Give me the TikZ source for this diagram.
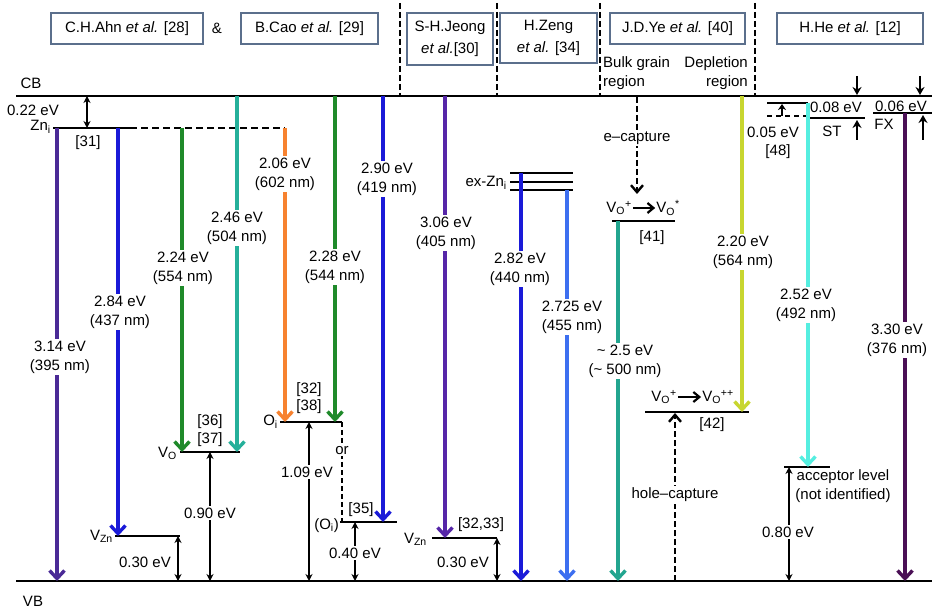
\documentclass[tikz,border=0pt]{standalone}
\usepackage{fontspec}
\setmainfont{Liberation Sans}
\usetikzlibrary{arrows.meta}
\definecolor{boxc}{HTML}{5B6F8C}
\definecolor{cpurA}{HTML}{4A2A96}
\definecolor{cpurB}{HTML}{5626A8}
\definecolor{cpurC}{HTML}{4A0F55}
\definecolor{cblue}{HTML}{1A1AD8}
\definecolor{clblue}{HTML}{3D6FF0}
\definecolor{cgreen}{HTML}{1F8A2A}
\definecolor{cteal}{HTML}{25B09A}
\definecolor{ctealB}{HTML}{22A58F}
\definecolor{corange}{HTML}{F7822F}
\definecolor{cyellow}{HTML}{C8D630}
\definecolor{ccyan}{HTML}{55EEE0}
\begin{document}
\begin{tikzpicture}[x=1pt,y=-1pt,
  every node/.style={font=\fontsize{15}{19}\selectfont, inner sep=1pt},
  lev/.style={line width=2.4pt},
  cl/.style={line width=3.4pt,-{Straight Barb[length=8pt,width=15pt]}},
  lab/.style={fill=white,align=center,inner sep=2pt},
  dbl/.style={line width=2pt,{Stealth[length=7pt,width=7pt]}-{Stealth[length=7pt,width=7pt]}},
  uparr/.style={line width=2pt,-{Stealth[length=8pt,width=9pt]}},
  hbox/.style={draw=boxc,line width=1.3pt,align=center,inner sep=0pt},
  vdash/.style={line width=2.3pt,dash pattern=on 6pt off 3pt},
  dar/.style={line width=2.4pt,dash pattern=on 6pt off 3pt,-{Straight Barb[length=7pt,width=12pt]}}]
\useasboundingbox (0,0) rectangle (932,609);

% ---------- header ----------
\node[hbox,minimum width=152pt,minimum height=31pt] (h1) at (127,28.5) {C.H.Ahn \textit{et al.} [28]};
\node (amp) at (217,28) {\&};
\node[hbox,minimum width=137pt,minimum height=31pt] (h2) at (309.5,28.5) {B.Cao \textit{et al.} [29]};
\node[hbox,minimum width=86pt,minimum height=52pt] (h3) at (450,39) {S-H.Jeong\\[3pt]\textit{et al.}[30]};
\node[hbox,minimum width=97pt,minimum height=50pt] (h4) at (548.5,38) {H.Zeng\\[3pt]\textit{et al.} [34]};
\node[hbox,minimum width=135pt,minimum height=31pt] (h5) at (677.5,28.5) {J.D.Ye \textit{et al.} [40]};
\node[hbox,minimum width=146pt,minimum height=31pt] (h6) at (850,28.5) {H.He \textit{et al.} [12]};
\node[anchor=west,align=left] (bulk) at (602,73) {Bulk grain\\region};
\node[anchor=east,align=right] (depl) at (749,73) {Depletion\\region};

\coordinate (s1t) at (400,3); \coordinate (s1b) at (400,96);
\coordinate (s2t) at (497,3); \coordinate (s2b) at (497,96);
\coordinate (s3t) at (600,3); \coordinate (s3b) at (600,96);
\coordinate (s4t) at (755,3); \coordinate (s4b) at (755,96);
\draw[vdash] (s1t) -- (s1b); \draw[vdash] (s2t) -- (s2b);
\draw[vdash] (s3t) -- (s3b); \draw[vdash] (s4t) -- (s4b);

% ---------- bands ----------
\coordinate (CBl) at (16,96); \coordinate (CBr) at (932,96);
\coordinate (VBl) at (16,581); \coordinate (VBr) at (932,581);
\draw[lev] (CBl) -- (CBr);
\draw[lev] (VBl) -- (VBr);
\node (cb) at (31,83) {CB};
\node (vb) at (33,601) {VB};

% ---------- levels ----------
\coordinate (zniL) at (53,128); \coordinate (zniM) at (130,128); \coordinate (zniR) at (285,128);
\draw[lev] (zniL) -- (zniM);
\draw[lev,dash pattern=on 7pt off 4pt] (zniM) -- (zniR);
\coordinate (vzn1L) at (115,536); \coordinate (vzn1R) at (180,536); \draw[lev] (vzn1L) -- (vzn1R);
\coordinate (voL) at (180,452); \coordinate (voR) at (240,452); \draw[lev] (voL) -- (voR);
\coordinate (oiL) at (280,422); \coordinate (oiR) at (342,422); \draw[lev] (oiL) -- (oiR);
\coordinate (oi2L) at (340,522); \coordinate (oi2R) at (397,522); \draw[lev] (oi2L) -- (oi2R);
\coordinate (oiD) at (342,522);
\draw[line width=1.8pt,dash pattern=on 5pt off 3pt] (oiR) -- (oiD);
\coordinate (vzn2L) at (432,538); \coordinate (vzn2R) at (497,538); \draw[lev] (vzn2L) -- (vzn2R);
\coordinate (ex1L) at (510,173); \coordinate (ex1R) at (573,173); \draw[lev] (ex1L) -- (ex1R);
\coordinate (ex2L) at (510,182); \coordinate (ex2R) at (573,182); \draw[lev] (ex2L) -- (ex2R);
\coordinate (ex3L) at (510,190); \coordinate (ex3R) at (573,190); \draw[lev] (ex3L) -- (ex3R);
\coordinate (vsL) at (612,221); \coordinate (vsR) at (675,221); \draw[lev] (vsL) -- (vsR);
\coordinate (vppL) at (645,412); \coordinate (vppR) at (749,412); \draw[lev] (vppL) -- (vppR);
\coordinate (heTL) at (767,103); \coordinate (heTR) at (808,103); \draw[lev] (heTL) -- (heTR);
\coordinate (heDL) at (767,116); \coordinate (heDR) at (808,116);
\draw[line width=2pt,dash pattern=on 5pt off 4pt] (heDL) -- (heDR);
\coordinate (stL) at (808,118); \coordinate (stR) at (865,118); \draw[lev] (stL) -- (stR);
\coordinate (fxL) at (873,113); \coordinate (fxR) at (932,113); \draw[lev] (fxL) -- (fxR);
\coordinate (acL) at (784,467); \coordinate (acR) at (830,467); \draw[lev] (acL) -- (acR);

% ---------- transitions ----------
\coordinate (a1s) at (57,128);  \coordinate (a1e) at (57,581);
\coordinate (a2s) at (118,128); \coordinate (a2e) at (118,536);
\coordinate (a3s) at (182,128); \coordinate (a3e) at (182,452);
\coordinate (a4s) at (285,128); \coordinate (a4e) at (285,422);
\coordinate (a5s) at (237,96);  \coordinate (a5e) at (237,452);
\coordinate (a6s) at (335,96);  \coordinate (a6e) at (335,422);
\coordinate (a7s) at (383,96);  \coordinate (a7e) at (383,522);
\coordinate (a8s) at (445,96);  \coordinate (a8e) at (445,538);
\coordinate (a9s) at (521,173); \coordinate (a9e) at (521,581);
\coordinate (a10s) at (567,190); \coordinate (a10e) at (567,581);
\coordinate (a11s) at (618,221); \coordinate (a11e) at (618,581);
\coordinate (a12s) at (742,96);  \coordinate (a12e) at (742,412);
\coordinate (a13s) at (808,103); \coordinate (a13e) at (808,467);
\coordinate (a14s) at (905,113); \coordinate (a14e) at (905,581);
\draw[cl,cpurA] (a1s) -- (a1e);
\draw[cl,cblue] (a2s) -- (a2e);
\draw[cl,cgreen] (a3s) -- (a3e);
\draw[cl,corange] (a4s) -- (a4e);
\draw[cl,cteal] (a5s) -- (a5e);
\draw[cl,cgreen] (a6s) -- (a6e);
\draw[cl,cblue] (a7s) -- (a7e);
\draw[cl,cpurB] (a8s) -- (a8e);
\draw[cl,cblue] (a9s) -- (a9e);
\draw[cl,clblue] (a10s) -- (a10e);
\draw[cl,ctealB] (a11s) -- (a11e);
\draw[cl,cyellow] (a12s) -- (a12e);
\draw[cl,ccyan] (a13s) -- (a13e);
\draw[cl,cpurC] (a14s) -- (a14e);

\node[lab] (l1) at (60,357) {3.14 eV\\(395 nm)};
\node[lab] (l2) at (120,312) {2.84 eV\\(437 nm)};
\node[lab] (l3) at (183,268) {2.24 eV\\(554 nm)};
\node[lab] (l4) at (285,174) {2.06 eV\\(602 nm)};
\node[lab] (l5) at (237,228) {2.46 eV\\(504 nm)};
\node[lab] (l6) at (335,267) {2.28 eV\\(544 nm)};
\node[lab] (l7) at (387,179) {2.90 eV\\(419 nm)};
\node[lab] (l8) at (446,233) {3.06 eV\\(405 nm)};
\node[lab] (l9) at (520,269) {2.82 eV\\(440 nm)};
\node[lab] (l10) at (572,317) {2.725 eV\\(455 nm)};
\node[lab] (l11) at (625,361) {\textasciitilde{} 2.5 eV\\(\textasciitilde{} 500 nm)};
\node[lab] (l12) at (743,252) {2.20 eV\\(564 nm)};
\node[lab] (l13) at (806,305) {2.52 eV\\(492 nm)};
\node[lab] (l14) at (897,340) {3.30 eV\\(376 nm)};

% ---------- gaps (double arrows) ----------
\coordinate (d1s) at (87,96);   \coordinate (d1e) at (87,128);
\coordinate (d2s) at (210,452); \coordinate (d2e) at (210,581);
\coordinate (d3s) at (178,536); \coordinate (d3e) at (178,581);
\coordinate (d4s) at (309,422); \coordinate (d4e) at (309,581);
\coordinate (d5s) at (355,522); \coordinate (d5e) at (355,581);
\coordinate (d6s) at (497,538); \coordinate (d6e) at (497,581);
\coordinate (d7s) at (789,467); \coordinate (d7e) at (789,581);
\draw[dbl] (d1s) -- (d1e);
\draw[dbl] (d2s) -- (d2e);
\draw[dbl] (d3s) -- (d3e);
\draw[dbl] (d4s) -- (d4e);
\draw[dbl] (d5s) -- (d5e);
\draw[dbl] (d6s) -- (d6e);
\draw[dbl] (d7s) -- (d7e);
\node[lab] (g1) at (33,110) {0.22 eV};
\node[lab] (g2) at (210,513) {0.90 eV};
\node[lab] (g3) at (145,562) {0.30 eV};
\node[lab] (g4) at (307,472) {1.09 eV};
\node[lab] (g5) at (355,553) {0.40 eV};
\node[lab] (g6) at (463,562) {0.30 eV};
\node[lab] (g7) at (788,532) {0.80 eV};

% ---------- level labels ----------
\node[anchor=base east] (tzni) at (52,131) {Zn\textsubscript{i}};
\node (r31) at (88,143) {[31]};
\node[anchor=base east] (tvo) at (178,457) {V\textsubscript{O}};
\node (r36) at (210,422) {[36]};
\node (r37) at (210,440) {[37]};
\node[anchor=base east] (tvzn1) at (114,540) {V\textsubscript{Zn}};
\node[anchor=base east] (toi) at (279,426) {O\textsubscript{i}};
\node (r32) at (309,390) {[32]};
\node (r38) at (309,407) {[38]};
\node[fill=white,inner sep=1pt] (tor) at (342,451) {or};
\node[anchor=base east] (toi2) at (340,529) {(O\textsubscript{i})};
\node (r35) at (361,510) {[35]};
\node[anchor=base east] (tvzn2) at (428,543) {V\textsubscript{Zn}};
\node (r3233) at (481,525) {[32,33]};
\node[anchor=base east] (texzn) at (508,187) {ex-Zn\textsubscript{i}};

% J.D.Ye
\node (vo1) at (619,208) {V\textsubscript{O}\textsuperscript{+}};
\node (vo2) at (668,208) {V\textsubscript{O}\textsuperscript{*}};
\draw[line width=2.2pt,-{Straight Barb[length=6pt,width=10pt]}] (vo1) -- (vo2);
\node (r41) at (652,238) {[41]};
\node (vo3) at (664,397) {V\textsubscript{O}\textsuperscript{+}};
\node (vo4) at (718,397) {V\textsubscript{O}\textsuperscript{++}};
\draw[line width=2.2pt,-{Straight Barb[length=6pt,width=10pt]}] (vo3) -- (vo4);
\node (r42) at (712,425) {[42]};
\coordinate (ecs) at (637,97); \coordinate (ece) at (637,194);
\coordinate (hcs) at (675,581); \coordinate (hce) at (675,413);
\draw[dar] (ecs) -- (ece);
\draw[dar] (hcs) -- (hce);
\node[lab] (tec) at (637,138) {e–capture};
\node[lab] (thc) at (675,495) {hole–capture};

% H.He
\coordinate (p1s) at (857,76);  \coordinate (p1e) at (857,95);
\coordinate (p2s) at (857,140); \coordinate (p2e) at (857,120);
\coordinate (p3s) at (920,76);  \coordinate (p3e) at (920,95);
\coordinate (p4s) at (923,140); \coordinate (p4e) at (923,115);
\coordinate (p5s) at (782,116); \coordinate (p5e) at (782,104);
\draw[uparr] (p1s) -- (p1e);
\draw[uparr] (p2s) -- (p2e);
\draw[uparr] (p3s) -- (p3e);
\draw[uparr] (p4s) -- (p4e);
\draw[line width=1.8pt,-{Stealth[length=6pt,width=8pt]}] (p5s) -- (p5e);
\node (t008) at (836,107) {0.08 eV};
\node (tst) at (832,131) {ST};
\node (t005) at (773,132) {0.05 eV};
\node (r48) at (778,152) {[48]};
\node (t006) at (901,106) {0.06 eV};
\node (tfx) at (884,124) {FX};
\node[align=center] (tacc) at (843,486) {acceptor level\\(not identified)};
\end{tikzpicture}
\end{document}
